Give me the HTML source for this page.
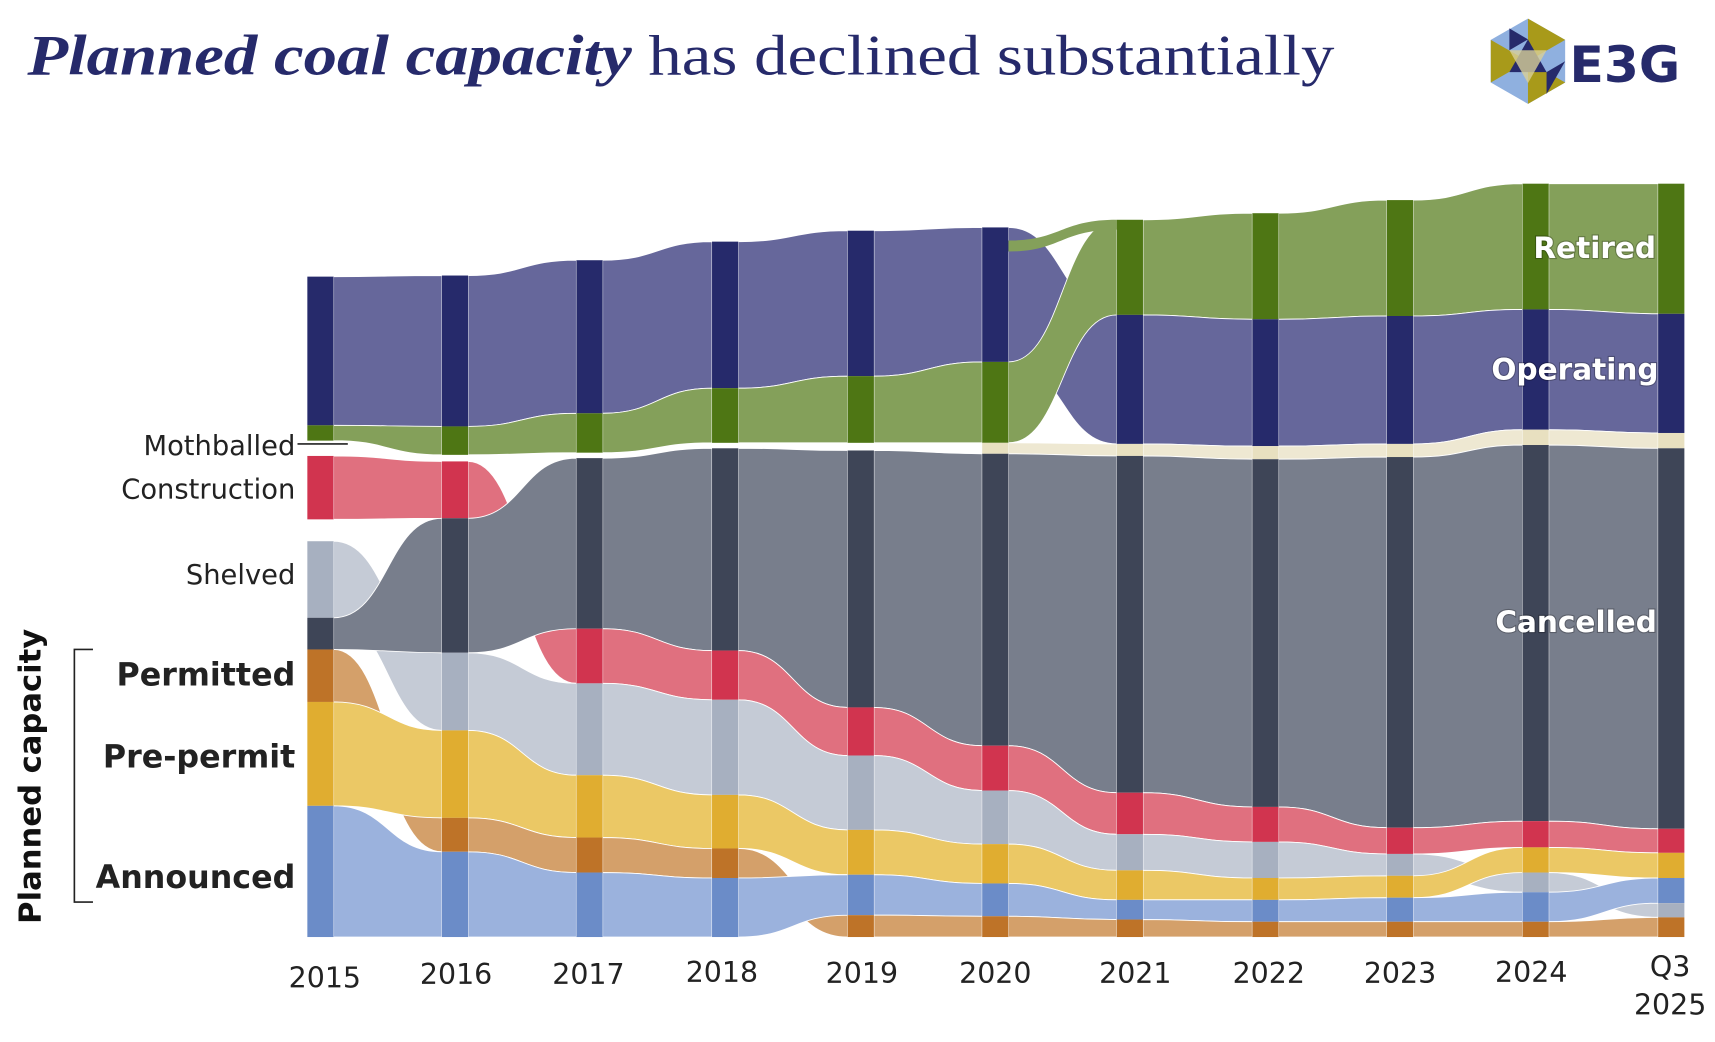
<!DOCTYPE html>
<html><head><meta charset="utf-8"><style>
html,body{margin:0;padding:0;background:#fff}
svg{display:block}
.sans{font-family:"DejaVu Sans","Liberation Sans",sans-serif}
</style></head><body>
<svg id="s" width="1715" height="1042" viewBox="0 0 1568 953" preserveAspectRatio="none" xmlns="http://www.w3.org/2000/svg">
<rect width="1568" height="953" fill="#fff"/>
<text x="25" y="68" style="font-family:'Liberation Serif',serif" font-size="52" fill="#262a6b" textLength="1195" lengthAdjust="spacingAndGlyphs"><tspan font-weight="bold" font-style="italic">Planned coal capacity</tspan> has declined substantially</text>
<g transform="translate(1397,56)">
<polygon points="0,-39 34,-19.5 34,19.5 0,39 -34,19.5 -34,-19.5" fill="#8fb0df"/>
<polygon points="0,-39 34,-19.5 0,0" fill="#a89a1a"/>
<polygon points="34,19.5 0,39 0,0" fill="#a89a1a"/>
<polygon points="-34,19.5 -34,-19.5 0,0" fill="#a89a1a"/>
<polygon points="0,-20 17,10 -17,10" fill="#262a6b"/>
<polygon points="0,20 17,-10 -17,-10" fill="#d8cf98" opacity="0.8"/>
<polygon points="-17,-10 0,-20 -17,-30" fill="#262a6b"/>
<polygon points="17,10 34,0 17,30" fill="#262a6b"/>
</g>
<text class="sans" x="1435" y="75" font-size="46" font-weight="bold" fill="#262a6b">E3G</text>
<g id="flows"></g>
<g id="nodes"></g>
<g class="sans" font-size="25" fill="#222" text-anchor="end">
<text x="270" y="416">Mothballed</text>
<text x="270" y="456">Construction</text>
<text x="270" y="534">Shelved</text>
<text x="270" y="627" font-size="29" font-weight="bold">Permitted</text>
<text x="270" y="702" font-size="29" font-weight="bold">Pre-permit</text>
<text x="270" y="812" font-size="29" font-weight="bold">Announced</text>
</g>
<line x1="272" y1="406" x2="318" y2="406" stroke="#222" stroke-width="1.5"/>
<path d="M85,594 H68 V825 H85" fill="none" stroke="#222" stroke-width="1.5"/>
<text class="sans" transform="translate(37,710) rotate(-90)" text-anchor="middle" font-size="28" font-weight="bold" fill="#111">Planned capacity</text>
<g class="sans" font-size="26" fill="#222" text-anchor="middle">
<text x="297" y="903">2015</text><text x="417" y="900">2016</text><text x="538" y="900">2017</text>
<text x="660" y="898">2018</text><text x="788" y="899">2019</text><text x="910" y="899">2020</text>
<text x="1038" y="899">2021</text><text x="1160" y="899">2022</text><text x="1280" y="899">2023</text>
<text x="1400" y="898">2024</text><text x="1527" y="893">Q3</text><text x="1527" y="928">2025</text>
</g>
<g class="sans" font-size="27" font-weight="bold" fill="#fff" text-anchor="middle" style="paint-order:stroke" stroke="rgba(0,0,0,0.25)" stroke-width="2">
<text x="1458" y="236">Retired</text><text x="1440" y="347">Operating</text><text x="1441" y="578">Cancelled</text>
</g>
</svg>
<script>
var C={O:["#262a6b","#66679b"],R:["#4e7614","#84a05a"],M:["#e8e0c0","#eee8d2"],X:["#3e4557","#787e8c"],C:["#d1344f","#e0707f"],S:["#a7b0c0","#c5cbd6"],P:["#be7328","#d4a06a"],Q:["#e0ad30","#ebc865"],A:["#6b8cc8","#9bb2dd"]};
var xs=[281,404,527,651,775,898,1021,1145,1268,1392,1516];
var D=[
{O:[253,389],R:[389,403],C:[417,475],S:[495,565],X:[565,594],P:[594,642],Q:[642,737],A:[737,857]},
{O:[252,390],R:[390,416],C:[422,474],X:[474,597],S:[597,668],Q:[668,748],P:[748,779],A:[779,857]},
{O:[238,378],R:[378,414],X:[419,575],C:[575,625],S:[625,709],Q:[709,766],P:[766,798],A:[798,857]},
{O:[221,355],R:[355,405],X:[410,595],C:[595,640],S:[640,727],Q:[727,776],P:[776,803],A:[803,857]},
{O:[211,344],R:[344,405],X:[412,647],C:[647,691],S:[691,759],Q:[759,800],A:[800,837],P:[837,857]},
{O:[208,331],R:[331,405],M:[405,415],X:[415,682],C:[682,723],S:[723,772],Q:[772,808],A:[808,838],P:[838,857]},
{R:[201,288],O:[288,406],M:[406,417],X:[417,725],C:[725,763],S:[763,796],Q:[796,823],A:[823,841],P:[841,857]},
{R:[195,292],O:[292,408],M:[408,420],X:[420,738],C:[738,770],S:[770,803],Q:[803,823],A:[823,843],P:[843,857]},
{R:[183,289],O:[289,406],M:[406,418],X:[418,757],C:[757,781],S:[781,801],Q:[801,821],A:[821,843],P:[843,857]},
{R:[168,283],O:[283,393],M:[393,407],X:[407,751],C:[751,775],Q:[775,798],S:[798,816],A:[816,843],P:[843,857]},
{R:[168,287],O:[287,396],M:[396,410],X:[410,758],C:[758,780],Q:[780,803],A:[803,826],S:[826,839],P:[839,857]}];
var NS="http://www.w3.org/2000/svg",F=document.getElementById("flows"),N=document.getElementById("nodes");
function el(p,t,a){var e=document.createElementNS(NS,t);for(var k in a)e.setAttribute(k,a[k]);p.appendChild(e);}
for(var i=0;i<D.length;i++){
 for(var k in D[i]){var n=D[i][k];
  el(N,"rect",{x:xs[i],y:n[0],width:24,height:n[1]-n[0],fill:C[k][0]});
  if(i<D.length-1&&D[i+1][k]){var m=D[i+1][k],a=xs[i]+24,b=xs[i+1],h=(a+b)/2;
   var d="M"+a+","+n[0]+"C"+h+","+n[0]+" "+h+","+m[0]+" "+b+","+m[0]+"L"+b+","+m[1]+"C"+h+","+m[1]+" "+h+","+n[1]+" "+a+","+n[1]+"Z";
   el(F,"path",{d:d,fill:C[k][1],stroke:"#fff","stroke-width":"0.8"});}
 }}
el(F,"path",{d:"M922,220C970,220 970,201 1021,201L1021,210C970,210 970,230 922,230Z",fill:"#84a05a"});
</script>
</body></html>
